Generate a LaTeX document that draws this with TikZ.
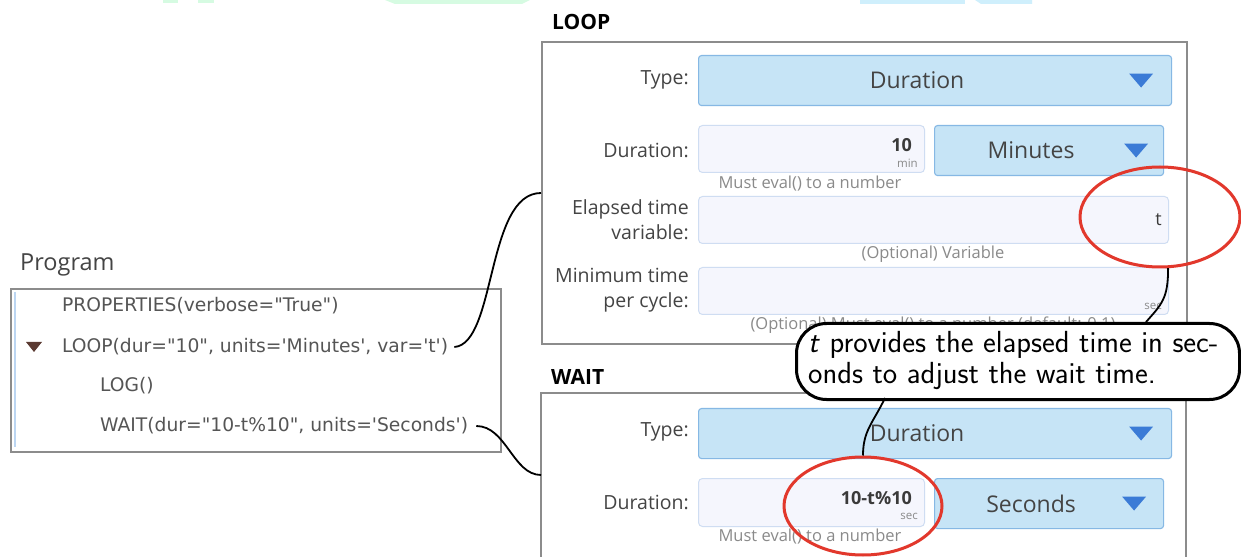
\documentclass[tikz,border=0pt]{standalone}
\usepackage{fontspec}
\newfontfamily\uifont{Open Sans}
\newfontfamily\codefont{DejaVu Sans}
\usetikzlibrary{shapes.geometric}

\definecolor{combofill}{HTML}{C6E4F6}
\definecolor{comboedge}{HTML}{86B8E4}
\definecolor{fieldfill}{HTML}{F5F6FD}
\definecolor{fieldedge}{HTML}{CFDDF2}
\definecolor{arrowblue}{HTML}{3B7BD6}
\definecolor{labelgray}{HTML}{444444}
\definecolor{valuegray}{HTML}{3A3A3A}
\definecolor{hintgray}{HTML}{8A8A8A}
\definecolor{panelgray}{HTML}{8C8C8C}
\definecolor{ringred}{HTML}{E2382C}
\definecolor{codegray}{HTML}{555555}
\definecolor{twistbrown}{HTML}{5B3A32}
\definecolor{railblue}{HTML}{BCD6F2}
\definecolor{pastelgreen}{HTML}{D6FBE2}
\definecolor{pastelblue}{HTML}{CFEFFC}

\newcommand{\fs}[2]{\fontsize{#1bp}{#2bp}\selectfont}

\tikzset{
  panel/.style={draw=panelgray, line width=1.6bp},
  combo/.style={draw=comboedge, fill=combofill, rounded corners=3bp, line width=1.1bp, anchor=north west, inner sep=0},
  field/.style={draw=fieldedge, fill=fieldfill, rounded corners=4bp, line width=1bp, anchor=north west, inner sep=0},
  heading/.style={anchor=west, inner sep=0, text=black, font=\uifont\bfseries\fs{21}{25}},
  lbl/.style={anchor=east, align=right, inner sep=0, text=labelgray, font=\uifont\fs{19.5}{25}},
  combotext/.style={inner sep=0, text=labelgray, font=\uifont\fs{23}{27}},
  value/.style={anchor=east, inner sep=0, text=valuegray, font=\uifont\bfseries\fs{18}{22}},
  unit/.style={anchor=east, inner sep=0, text=hintgray, font=\uifont\fs{11.5}{13}},
  hint/.style={inner sep=0, text=hintgray, font=\uifont\fs{16.5}{20}},
  code/.style={anchor=west, inner sep=0, text=codegray, font=\codefont\fs{18.7}{22}},
  ring/.style={draw=ringred, line width=3bp, ellipse, inner sep=0},
  link/.style={draw=black, line width=1.8bp},
  note/.style={draw=black, fill=white, line width=3bp, rounded corners=30bp, anchor=north west, inner sep=0},
  droparrow/.pic={\fill[arrowblue] (-12bp,7bp) -- (12bp,7bp) -- (0,-7bp) -- cycle;}
}

\begin{document}
\begin{tikzpicture}[x=1bp, y=-1bp]
\useasboundingbox[fill=white] (0,0) rectangle (1241,557);

% pale strips along the top edge
\fill[pastelgreen] (163,0) rectangle (178,3);
\fill[pastelgreen] (198,0) rectangle (214,3);
\fill[pastelgreen] (385,0) -- (530,0) -- (522,4) -- (395,4) -- cycle;
\fill[pastelblue] (860,0) rectangle (965,4);
\fill[pastelblue] (975,0) -- (1032,0) -- (1032,4) -- (981,4) -- cycle;

% ---------------- Program list ----------------
\node[anchor=west, inner sep=0, text=labelgray, font=\uifont\fs{23.5}{27}] (progtitle) at (20,265) {Program};
\node[panel, anchor=north west, minimum width=490bp, minimum height=163bp, inner sep=0] (prog) at (10,288) {};
\draw[railblue, line width=2bp] (15,292) -- (15,447);
\node[code] (props) at (62,306) {PROPERTIES(verbose="True")};
\fill[twistbrown] (26,342) -- (42,342) -- (34,352) -- cycle;
\node[code] (loopcall) at (62,347) {LOOP(dur="10", units='Minutes', var='t')};
\node[code] (logcall) at (100,386) {LOG()};
\node[code] (waitcall) at (100,426) {WAIT(dur="10-t\%10", units='Seconds')};

% ---------------- LOOP block ----------------
\node[heading] (loophead) at (552,22) {LOOP};
\node[panel, anchor=north west, minimum width=645bp, minimum height=302bp, inner sep=0] (looppanel) at (541,41) {};

\node[lbl] (ltypel) at (689,80) {Type:};
\node[combo, minimum width=473bp, minimum height=50bp] (ltype) at (698,55) {};
\node[combotext] at ([xshift=-18bp]ltype.center) {Duration};
\pic at ([xshift=-31bp]ltype.east) {droparrow};

\node[lbl] (ldurl) at (689,150) {Duration:};
\node[field, minimum width=226bp, minimum height=47bp] (ldur) at (698,125) {};
\node[value] at (912,145) {10};
\node[unit] at (918,163) {min};
\node[combo, minimum width=229bp, minimum height=50bp] (lunits) at (934,125) {};
\node[combotext] at ([xshift=-18bp]lunits.center) {Minutes};
\pic at ([xshift=-28bp]lunits.east) {droparrow};
\node[hint] at (810,184) {Must eval() to a number};

\node[lbl] (lvarl) at (689,219.5) {Elapsed time\\variable:};
\node[field, minimum width=470bp, minimum height=47bp] (lvar) at (698,196) {};
\node[value, font=\uifont\fs{18}{22}] at (1162,220) {t};
\node[hint] at (933,254) {(Optional) Variable};

\node[lbl] (lminl) at (689,290) {Minimum time\\per cycle:};
\node[field, minimum width=470bp, minimum height=47bp] (lmin) at (698,267) {};
\node[unit] at (1162,306) {sec};
\node[hint] at (933,325) {(Optional) Must eval() to a number (default: 0.1)};

% ---------------- WAIT block ----------------
\node[heading] (waithead) at (551,377) {WAIT};
\draw[panel] (541,575) -- (541,393) -- (1186,393) -- (1186,575);

\node[lbl] (wtypel) at (689,432) {Type:};
\node[combo, minimum width=473bp, minimum height=50bp] (wtype) at (698,408) {};
\node[combotext] at ([xshift=-18bp]wtype.center) {Duration};
\pic at ([xshift=-31bp]wtype.east) {droparrow};

\node[lbl] (wdurl) at (689,502) {Duration:};
\node[field, minimum width=226bp, minimum height=48bp] (wdur) at (698,478) {};
\node[value] at (912,498) {10-t\%10};
\node[unit] at (918,516) {sec};
\node[combo, minimum width=229bp, minimum height=50bp] (wunits) at (934,478) {};
\node[combotext] at ([xshift=-18bp]wunits.center) {Seconds};
\pic at ([xshift=-30bp]wunits.east) {droparrow};
\node[hint] at (810,537) {Must eval() to a number};

% ---------------- highlights and note ----------------
\node[ring, minimum width=160bp, minimum height=100bp] (ringvar) at (1160,217) {};
\node[ring, minimum width=158bp, minimum height=98bp] (ringdur) at (863,506) {};

\node[note, minimum width=443bp, minimum height=76bp] (note) at (795,322) {};
\node[anchor=north west, inner sep=0, align=left, font=\sffamily\fs{30.5}{31}] (notetext) at (808,331)
  {\textit{t} provides the elapsed time in sec-\\onds to adjust the wait time.};
\coordinate (notetop) at (1146,322);
\coordinate (notebot) at (885,398);

% ---------------- connectors ----------------
\coordinate (loopin) at (541,193);
\coordinate (waitin) at (541,475);
\draw[link] ([xshift=6bp]loopcall.east) .. controls +(42,-3) and +(-55,0) .. (loopin);
\draw[link] ([xshift=8bp]waitcall.east) .. controls +(30,0) and +(-28,0) .. (waitin);
\draw[link] (ringvar.-81) .. controls +(0,30) and +(16,-18) .. (notetop);
\draw[link] (notebot) .. controls +(-12,25) and +(0,-25) .. (ringdur.north);
\end{tikzpicture}
\end{document}
